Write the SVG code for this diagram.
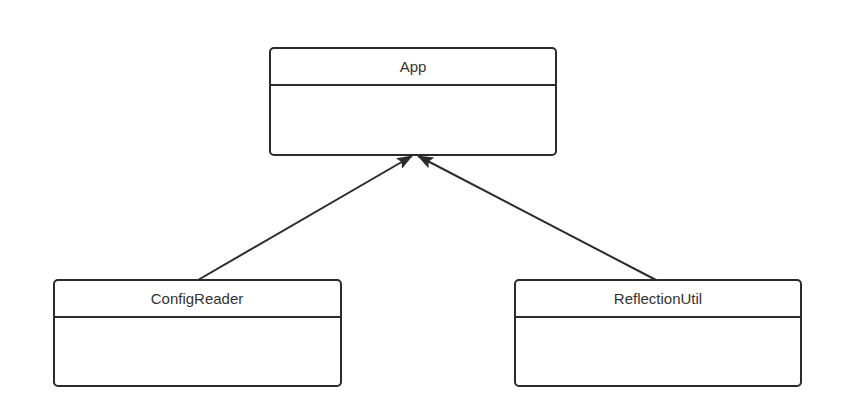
<svg xmlns="http://www.w3.org/2000/svg" width="858" height="417" viewBox="0 0 858 417">
<style>
.box{fill:#fff;stroke:#2b2b2b;stroke-width:2}
.div{stroke:#2b2b2b;stroke-width:2}
.lbl{font-family:"Liberation Sans",Arial,sans-serif;font-size:15px;fill:#333;text-anchor:middle}
.conn{stroke:#2b2b2b;stroke-width:2;fill:none}
</style>
<defs>
<marker id="arr" viewBox="0 0 16 12" refX="15" refY="6" markerWidth="16" markerHeight="12" markerUnits="userSpaceOnUse" orient="auto">
<path d="M0,0 L16,6 L0,12 L3,6 Z" fill="#2b2b2b"/>
</marker>
</defs>
<rect width="858" height="417" fill="#fff"/>
<g id="connectors">
<line class="conn" x1="198" y1="280" x2="412" y2="156" marker-end="url(#arr)"/>
<line class="conn" x1="656" y1="280" x2="418" y2="156" marker-end="url(#arr)"/>
</g>
<g id="App">
<rect class="box" x="270" y="48" width="286" height="107" rx="4"/>
<line class="div" x1="270" y1="85" x2="556" y2="85"/>
<text class="lbl" x="413" y="72">App</text>
</g>
<g id="ConfigReader">
<rect class="box" x="54" y="280" width="287" height="106" rx="4"/>
<line class="div" x1="54" y1="317" x2="341" y2="317"/>
<text class="lbl" x="197" y="304">ConfigReader</text>
</g>
<g id="ReflectionUtil">
<rect class="box" x="515" y="280" width="286" height="106" rx="4"/>
<line class="div" x1="515" y1="317" x2="801" y2="317"/>
<text class="lbl" x="658" y="304">ReflectionUtil</text>
</g>
</svg>
